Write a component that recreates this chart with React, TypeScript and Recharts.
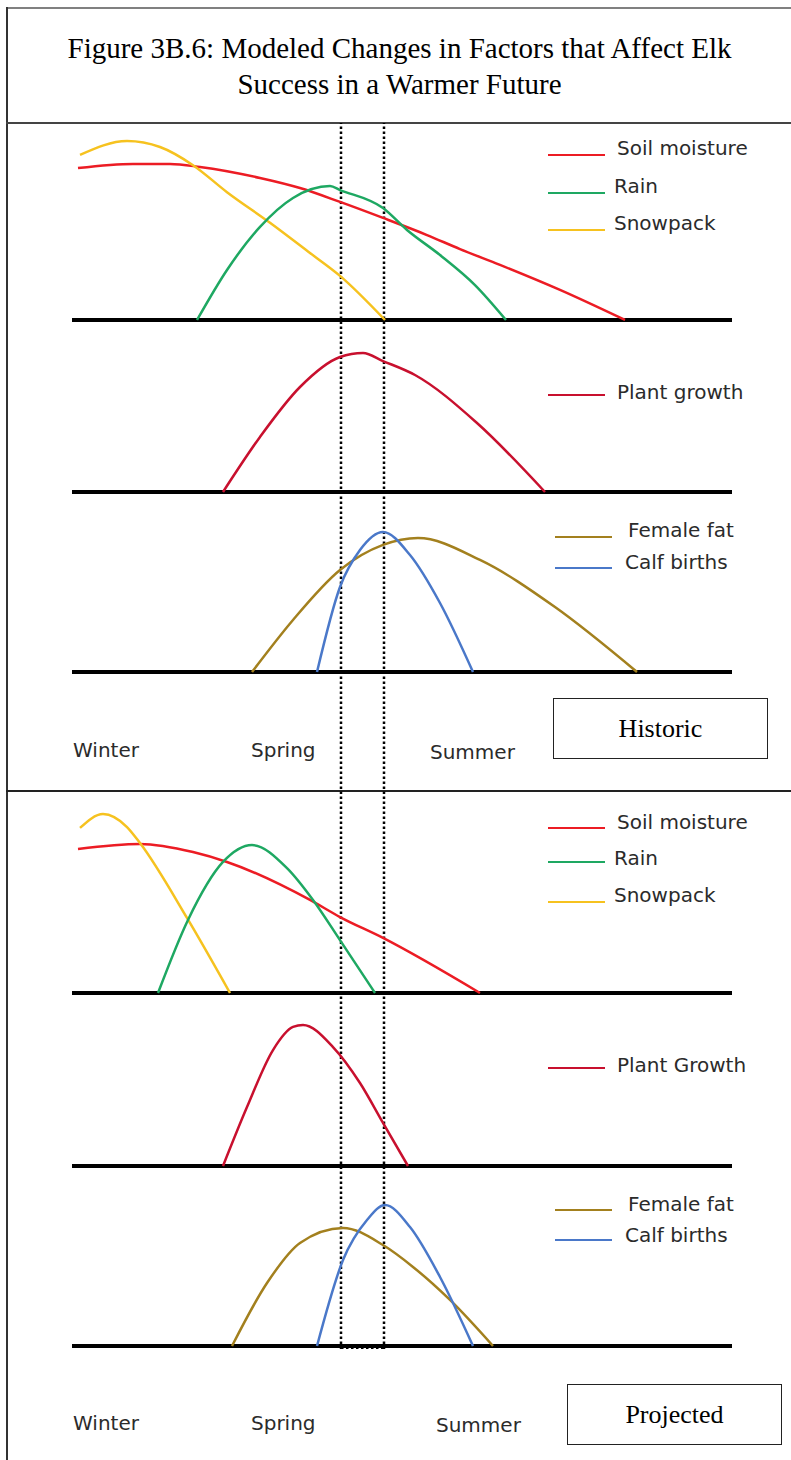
import { ComposedChart, Line, XAxis, YAxis, ReferenceLine } from "recharts";

// x = position along the season axis (0 = left end of the baselines), y = relative level (0 = baseline)
const histSoilX = [0.6, 6.1, 9.8, 12.8, 18.8, 22.8, 26.8, 31.1, 35.5, 38.8, 42.8, 48.8, 55.3];
const histSoilY = [84.4, 86.7, 86.7, 85, 78.9, 73.3, 65.6, 56.7, 47.2, 39.4, 30.6, 16.7, 0];
const histRainX = [12.5, 15.5, 18.8, 22.1, 25.8, 26.8, 31.1, 33.5, 36.8, 40.3, 43.4];
const histRainY = [0, 27.8, 51.7, 67.8, 74.4, 72.2, 62.2, 50, 36.1, 19.4, 0];
const histSnowX = [0.8, 5.5, 8.8, 12.1, 15.5, 19.8, 23.8, 26.8, 31.3];
const histSnowY = [91.7, 99.4, 96.1, 86, 71, 54, 37.2, 24.5, 0];
const histPlantX = [15.1, 18.8, 22.8, 26.8, 29.1, 31.1, 34.3, 40.5, 47.3];
const histPlantY = [0, 36.7, 70, 90, 92.7, 87.3, 78, 46, 0];
const histFatX = [18, 22.1, 26.8, 31.1, 34.6, 40.8, 48.3, 56.5];
const histFatY = [0, 34.7, 68, 84.7, 89.3, 74.7, 43.3, 0];
const histCalfX = [24.5, 26.8, 28.8, 31.1, 33.8, 36.8, 40.1];
const histCalfY = [0, 56.7, 81.3, 93.3, 78, 46, 0];

const projSoilX = [0.6, 6.8, 12.1, 15.5, 23.8, 26.8, 31.1, 40.8];
const projSoilY = [80, 82.8, 78.3, 72.8, 51.7, 42.2, 30.6, 0];
const projRainX = [8.6, 11.6, 15.1, 18, 21.5, 24.1, 26.8, 30.3];
const projRainY = [0, 40.6, 72.8, 82.2, 69.4, 51.7, 29.4, 0];
const projSnowX = [0.8, 3.1, 5.5, 6.8, 11.5, 15.8];
const projSnowY = [91.7, 99.4, 92.2, 83.3, 41.7, 0];
const projPlantX = [15.1, 17.5, 20.1, 22.1, 23.1, 26.1, 28.8, 31.1, 33.6];
const projPlantY = [0, 39.3, 77.3, 92.7, 94, 79.3, 55.3, 28.7, 0];
const projFatX = [16, 19.5, 22.8, 27.1, 31.1, 34.1, 37.8, 42.1];
const projFatY = [0, 42, 68.7, 78.7, 67.3, 52.7, 30.7, 0];
const projCalfX = [24.5, 27.1, 29.5, 31.3, 33.8, 36.8, 40.1];
const projCalfY = [0, 57.3, 84, 94, 79.3, 46, 0];

const markers = [26.9, 31.2];
const seasons = ["Winter", "Spring", "Summer"];

const zip = (xs: number[], ys: number[]) => xs.map((x, i) => ({ x, y: ys[i] }));

const W = 791;
const H = 1460;
const PLOT_TOP = 123;
const PLOT_BOTTOM = 1349;

// each strip: baseline pixel and pixels per unit
const strips = [
  { id: "hClimate", base: 320, scale: 1.8 },
  { id: "hPlant", base: 492, scale: 1.5 },
  { id: "hElk", base: 672, scale: 1.5 },
  { id: "pClimate", base: 993, scale: 1.8 },
  { id: "pPlant", base: 1166, scale: 1.5 },
  { id: "pElk", base: 1346, scale: 1.5 },
];

const series = [
  { name: "Soil moisture", axis: "hClimate", color: "#ec1c24", data: zip(histSoilX, histSoilY) },
  { name: "Snowpack", axis: "hClimate", color: "#f6c21f", data: zip(histSnowX, histSnowY) },
  { name: "Rain", axis: "hClimate", color: "#1ea862", data: zip(histRainX, histRainY) },
  { name: "Plant growth", axis: "hPlant", color: "#c8102e", data: zip(histPlantX, histPlantY) },
  { name: "Female fat", axis: "hElk", color: "#a3801e", data: zip(histFatX, histFatY) },
  { name: "Calf births", axis: "hElk", color: "#4a78c9", data: zip(histCalfX, histCalfY) },
  { name: "Soil moisture (proj)", axis: "pClimate", color: "#ec1c24", data: zip(projSoilX, projSoilY) },
  { name: "Snowpack (proj)", axis: "pClimate", color: "#f6c21f", data: zip(projSnowX, projSnowY) },
  { name: "Rain (proj)", axis: "pClimate", color: "#1ea862", data: zip(projRainX, projRainY) },
  { name: "Plant Growth (proj)", axis: "pPlant", color: "#c8102e", data: zip(projPlantX, projPlantY) },
  { name: "Female fat (proj)", axis: "pElk", color: "#a3801e", data: zip(projFatX, projFatY) },
  { name: "Calf births (proj)", axis: "pElk", color: "#4a78c9", data: zip(projCalfX, projCalfY) },
];

const legendItems = [
  { label: "Soil moisture", color: "#ec1c24", x: 548, y: 155, tx: 617, ty: 148 },
  { label: "Rain", color: "#1ea862", x: 548, y: 193, tx: 614, ty: 186 },
  { label: "Snowpack", color: "#f6c21f", x: 548, y: 230, tx: 614, ty: 223 },
  { label: "Plant growth", color: "#c8102e", x: 548, y: 395, tx: 617, ty: 392 },
  { label: "Female fat", color: "#a3801e", x: 555, y: 537, tx: 628, ty: 530 },
  { label: "Calf births", color: "#4a78c9", x: 555, y: 568, tx: 625, ty: 562 },
  { label: "Soil moisture", color: "#ec1c24", x: 548, y: 828, tx: 617, ty: 822 },
  { label: "Rain", color: "#1ea862", x: 548, y: 862, tx: 614, ty: 858 },
  { label: "Snowpack", color: "#f6c21f", x: 548, y: 902, tx: 614, ty: 895 },
  { label: "Plant Growth", color: "#c8102e", x: 548, y: 1068, tx: 617, ty: 1065 },
  { label: "Female fat", color: "#a3801e", x: 555, y: 1210, tx: 628, ty: 1204 },
  { label: "Calf births", color: "#4a78c9", x: 555, y: 1240, tx: 625, ty: 1235 },
];

const seasonPos = [
  { xs: [73, 251, 430], ys: [750, 750, 752] },
  { xs: [73, 251, 436], ys: [1423, 1423, 1425] },
];

const sans = "'DejaVu Sans', Verdana, sans-serif";
const serif = "'Liberation Serif', 'Times New Roman', serif";

function Box({ label, left, top }: { label: string; left: number; top: number }) {
  return (
    <div
      style={{
        position: "absolute",
        left,
        top,
        width: 213,
        height: 59,
        border: "1px solid #222",
        display: "flex",
        alignItems: "center",
        justifyContent: "center",
        fontFamily: serif,
        fontSize: 26,
        color: "#000",
      }}
    >
      {label}
    </div>
  );
}

export default function App() {
  return (
    <div style={{ position: "absolute", left: 0, top: 0, width: W, height: H, background: "#fff", overflow: "hidden" }}>
      {/* frame */}
      <div style={{ position: "absolute", left: 6, top: 7, width: W - 6, height: 2, background: "#808080" }} />
      <div style={{ position: "absolute", left: 6, top: 7, width: 2, height: H - 7, background: "#333" }} />
      <div style={{ position: "absolute", left: 6, top: 122, width: W - 6, height: 1.5, background: "#444" }} />
      <div style={{ position: "absolute", left: 6, top: 790, width: W - 6, height: 2, background: "#222" }} />

      <div
        style={{
          position: "absolute",
          left: 8,
          top: 30,
          width: W - 8,
          textAlign: "center",
          fontFamily: serif,
          fontSize: 29,
          lineHeight: "36px",
          color: "#000",
        }}
      >
        Figure 3B.6: Modeled Changes in Factors that Affect Elk
        <br />
        Success in a Warmer Future
      </div>

      <ComposedChart
        width={W}
        height={H}
        margin={{ top: PLOT_TOP, right: W - 732, bottom: H - PLOT_BOTTOM, left: 72 }}
        style={{ position: "absolute", left: 0, top: 0 }}
      >
        <XAxis type="number" dataKey="x" domain={[0, 66]} hide allowDataOverflow />
        {strips.map((s) => (
          <YAxis
            key={s.id}
            yAxisId={s.id}
            type="number"
            domain={[-(PLOT_BOTTOM - s.base) / s.scale, (s.base - PLOT_TOP) / s.scale]}
            hide
            allowDataOverflow
          />
        ))}
        {strips.map((s) => (
          <ReferenceLine key={"b" + s.id} yAxisId={s.id} y={0} stroke="#000" strokeWidth={4} />
        ))}
        {markers.map((m) => (
          <ReferenceLine
            key={"m" + m}
            yAxisId="pElk"
            x={m}
            stroke="#000"
            strokeWidth={2.5}
            strokeDasharray="2.5 2.5"
          />
        ))}
        <ReferenceLine
          yAxisId="pElk"
          segment={[
            { x: markers[0], y: -1.2 },
            { x: markers[1], y: -1.2 },
          ]}
          stroke="#000"
          strokeWidth={2.5}
          strokeDasharray="2.5 2.5"
          ifOverflow="visible"
        />
        {series.map((s) => (
          <Line
            key={s.name}
            name={s.name}
            data={s.data}
            dataKey="y"
            yAxisId={s.axis}
            type="monotone"
            stroke={s.color}
            strokeWidth={2.5}
            dot={false}
            activeDot={false}
            isAnimationActive={false}
          />
        ))}
      </ComposedChart>

      {legendItems.map((l, i) => (
        <div key={i}>
          <div
            style={{ position: "absolute", left: l.x, top: l.y - 1.25, width: 57, height: 2.5, background: l.color }}
          />
          <div
            style={{
              position: "absolute",
              left: l.tx,
              top: l.ty - 13,
              height: 26,
              lineHeight: "26px",
              fontFamily: sans,
              fontSize: 20,
              color: "#2b2b2b",
              whiteSpace: "nowrap",
            }}
          >
            {l.label}
          </div>
        </div>
      ))}

      {seasonPos.map((p, k) =>
        seasons.map((s, i) => (
          <div
            key={k + s}
            style={{
              position: "absolute",
              left: p.xs[i],
              top: p.ys[i] - 13,
              height: 26,
              lineHeight: "26px",
              fontFamily: sans,
              fontSize: 20,
              color: "#2b2b2b",
              whiteSpace: "nowrap",
            }}
          >
            {s}
          </div>
        ))
      )}

      <Box label="Historic" left={553} top={698} />
      <Box label="Projected" left={567} top={1384} />
    </div>
  );
}
